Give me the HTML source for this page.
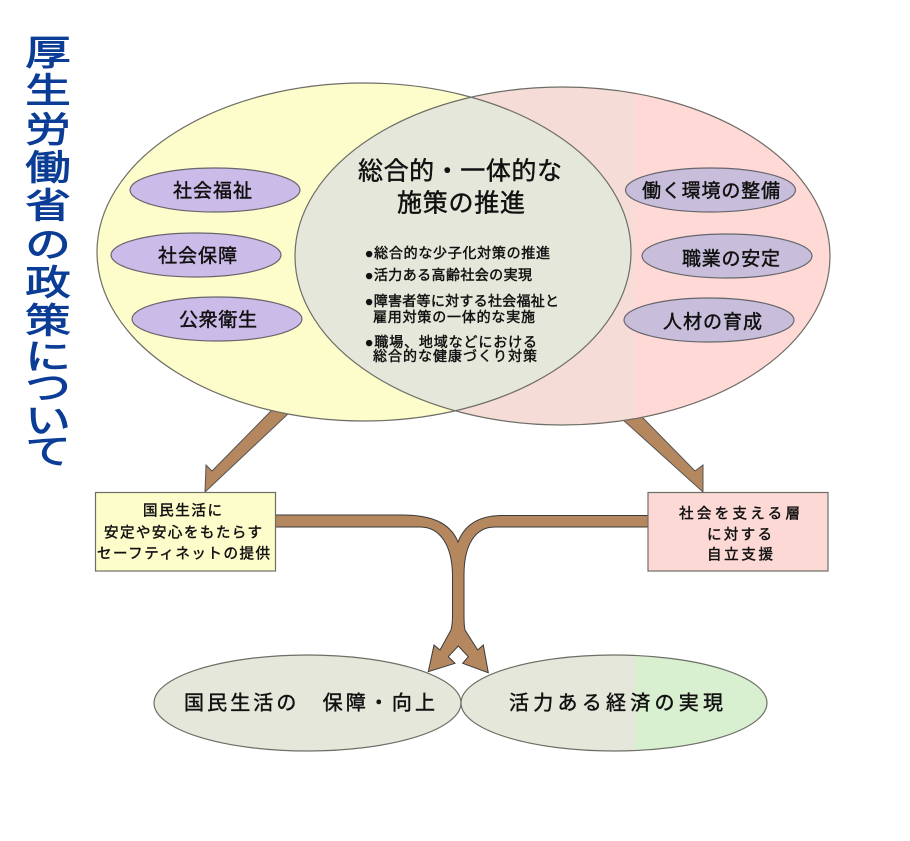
<!DOCTYPE html>
<html lang="ja">
<head>
<meta charset="utf-8">
<title>厚生労働省の政策について</title>
<style>
html,body{margin:0;padding:0;background:#fff;width:910px;height:841px;overflow:hidden}
svg{display:block}
text{font-family:"Liberation Sans","Noto Sans CJK JP",sans-serif;fill:#111;dominant-baseline:central;stroke:#111;stroke-width:.45}
.t{fill:#0b3c96;stroke:#0b3c96;stroke-width:.9;font-size:35px;text-anchor:middle}
</style>
</head>
<body>
<svg width="910" height="841" viewBox="0 0 910 841" xmlns="http://www.w3.org/2000/svg">
<defs>
<clipPath id="cL"><ellipse cx="364" cy="252" rx="267" ry="169"/></clipPath>
<clipPath id="x635"><rect x="0" y="0" width="635" height="841"/></clipPath>
</defs>

<!-- arrows behind ellipses -->
<polygon points="272,410 212,471 206,465 205,492 290,412" fill="#b5875f" stroke="#555" stroke-width="1"/>
<polygon points="642,417 695,471 703,465 703,492 622,419" fill="#b5875f" stroke="#555" stroke-width="1"/>

<!-- venn -->
<ellipse cx="562.5" cy="256" rx="267.5" ry="169" fill="#ffd9d6"/>
<ellipse cx="562.5" cy="256" rx="267.5" ry="169" fill="#f5dcd7" clip-path="url(#x635)"/>
<ellipse cx="364" cy="252" rx="267" ry="169" fill="#fdfdcb"/>
<g clip-path="url(#cL)"><ellipse cx="562.5" cy="256" rx="267.5" ry="169" fill="#e4e7d9"/></g>
<ellipse cx="562.5" cy="256" rx="267.5" ry="169" fill="none" stroke="#6e6e66" stroke-width="1.2"/>
<ellipse cx="364" cy="252" rx="267" ry="169" fill="none" stroke="#6e6e66" stroke-width="1.2"/>

<!-- small ellipses -->
<g fill="#cbbbe8" stroke="#66666c" stroke-width="1.2">
<ellipse cx="215" cy="190" rx="85" ry="22"/>
<ellipse cx="196" cy="255" rx="85" ry="22"/>
<ellipse cx="217" cy="319" rx="85" ry="22"/>
</g>
<g fill="#c8bedb" stroke="#66666c" stroke-width="1.2">
<ellipse cx="710.5" cy="190" rx="85" ry="22"/>
<ellipse cx="727" cy="256" rx="85" ry="22"/>
<ellipse cx="709" cy="320" rx="85" ry="22"/>
</g>

<g font-size="19" transform="translate(0,1.5)">
<text x="173" y="190" textLength="79">社会福祉</text>
<text x="158" y="255" textLength="79">社会保障</text>
<text x="179" y="319" textLength="78">公衆衛生</text>
<text x="642" y="190" textLength="138">働く環境の整備</text>
<text x="682" y="258" textLength="98">職業の安定</text>
<text x="663" y="321" textLength="99">人材の育成</text>
</g>

<g font-size="25" transform="translate(0,1.5)">
<text x="358" y="170" textLength="204">総合的・一体的な</text>
<text x="397" y="202" textLength="128">施策の推進</text>
</g>

<g font-size="14" transform="translate(0,1)">
<text x="365" y="252" textLength="185">●総合的な少子化対策の推進</text>
<text x="365" y="274" textLength="167">●活力ある高齢社会の実現</text>
<text x="365" y="300" textLength="194">●障害者等に対する社会福祉と</text>
<text x="373" y="316" textLength="162">雇用対策の一体的な実施</text>
<text x="365" y="341" textLength="172">●職場、地域などにおける</text>
<text x="373" y="355" textLength="164">総合的な健康づくり対策</text>
</g>

<!-- connector -->
<path d="M275,515 L402,515 C430,515 450,522 458,542 C465,524 480,516 500,515.5 L648,515.5 L648,527 L495,527 C475,527 464,545 464,575 L464,615 C464,622 464,626 465,630 L477.7,650 L483.3,645 L488.3,672.7 L462.7,663.3 L468.3,656.7 L458.3,646 L448.3,656.7 L455,663.3 L428.3,671.7 L434,645 L440,650 L451,630 C452,626 452.5,620 452.5,615 L452.5,575 C452,545 440,527 420,527 L275,527 Z" fill="#b5875f" stroke="#3a3a3a" stroke-width="1"/>

<!-- boxes -->
<rect x="95.5" y="492.5" width="180" height="78.5" fill="#fdfdcb" stroke="#6e6e66" stroke-width="1.2"/>
<rect x="648" y="492.5" width="180" height="78.5" fill="#fdd9d6" stroke="#6e6e66" stroke-width="1.2"/>

<g font-size="14.5" transform="translate(0,1.5)">
<text x="143" y="510" textLength="79">国民生活に</text>
<text x="104" y="532" textLength="158">安定や安心をもたらす</text>
<text x="97" y="553" textLength="173">セーフティネットの提供</text>
<text x="679" y="513" textLength="121">社会を支える層</text>
<text x="707" y="534" textLength="65">に対する</text>
<text x="707" y="554" textLength="66">自立支援</text>
</g>

<!-- bottom ellipses -->
<ellipse cx="307.5" cy="703" rx="153.5" ry="48" fill="#e4e7d9" stroke="#6e6e66" stroke-width="1.2"/>
<ellipse cx="614" cy="703" rx="153" ry="48" fill="#d8f0d0"/>
<ellipse cx="614" cy="703" rx="153" ry="48" fill="#e4e7d9" clip-path="url(#x635)"/>
<ellipse cx="614" cy="703" rx="153" ry="48" fill="none" stroke="#6e6e66" stroke-width="1.2"/>

<g font-size="20" transform="translate(0,1.5)">
<text x="184" y="702" textLength="251">国民生活の　保障・向上</text>
<text x="509" y="702" textLength="214">活力ある経済の実現</text>
</g>

<!-- vertical title -->
<g>
<text class="t" transform="translate(48,53) scale(1.3,1)">厚</text>
<text class="t" transform="translate(48,91) scale(1.3,1)">生</text>
<text class="t" transform="translate(48,130) scale(1.3,1)">労</text>
<text class="t" transform="translate(48,168) scale(1.3,1)">働</text>
<text class="t" transform="translate(48,206) scale(1.3,1)">省</text>
<text class="t" transform="translate(48,245) scale(1.3,1)">の</text>
<text class="t" transform="translate(48,283) scale(1.3,1)">政</text>
<text class="t" transform="translate(48,321) scale(1.3,1)">策</text>
<text class="t" transform="translate(48,357) scale(1.3,1)">に</text>
<text class="t" transform="translate(48,388) scale(1.3,1)">つ</text>
<text class="t" transform="translate(48,421) scale(1.3,1)">い</text>
<text class="t" transform="translate(48,452) scale(1.3,1)">て</text>
</g>
</svg>
</body>
</html>
